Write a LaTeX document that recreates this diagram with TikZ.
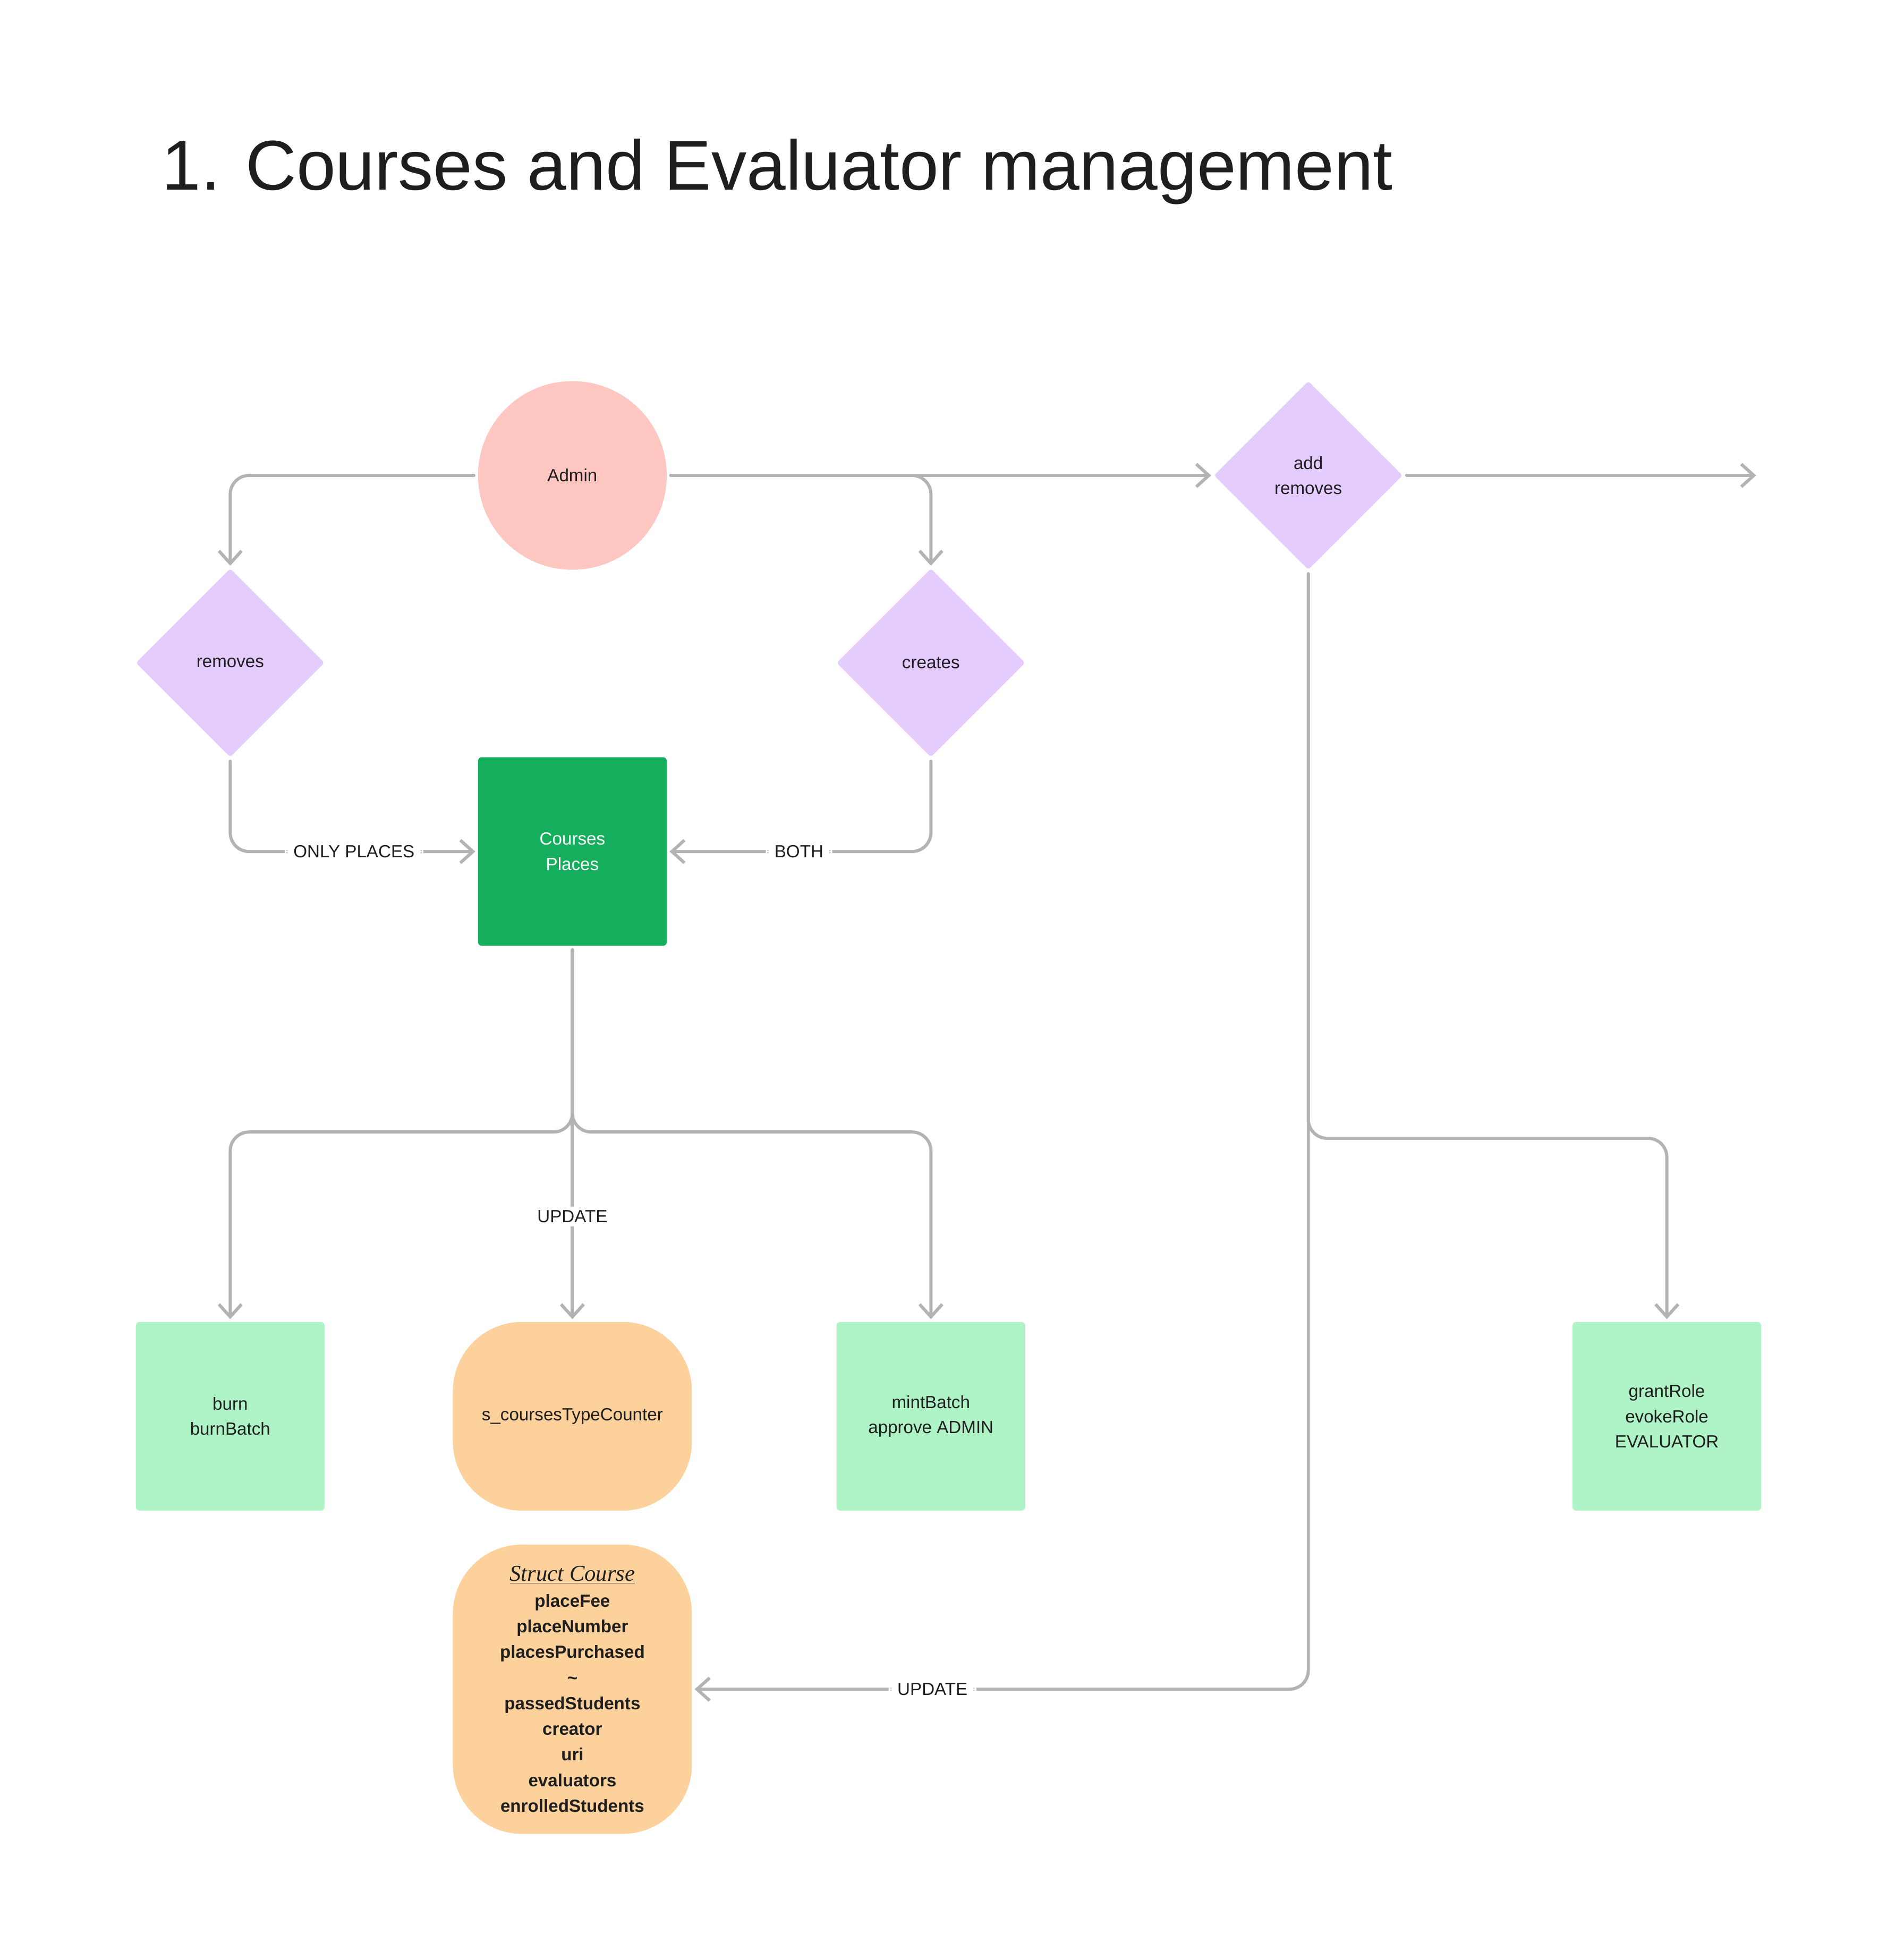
\documentclass[tikz,border=0pt]{standalone}
\usepackage{fontspec}
\setmainfont{Liberation Sans}
\newfontfamily\handfont{Liberation Serif}
\usetikzlibrary{shapes.geometric,arrows.meta}
\definecolor{lineGray}{HTML}{B3B3B3}
\definecolor{adminPink}{HTML}{FFC7C2}
\definecolor{choiceLilac}{HTML}{E4CCFF}
\definecolor{storeGreen}{HTML}{14AE5C}
\definecolor{fnGreen}{HTML}{AFF4C6}
\definecolor{varOrange}{HTML}{FCD19C}
\definecolor{inkDark}{HTML}{1E1E1E}
\begin{document}
\begin{tikzpicture}[
              x=1pt, y=-1pt,
              every node/.style={font=\fontsize{14}{20}\selectfont, text=inkDark, align=center},
              actor/.style={circle, fill=adminPink, minimum size=150pt, inner sep=0pt},
              choice/.style={diamond, fill=choiceLilac, minimum width=150pt, minimum height=150pt, aspect=1, inner sep=0pt, rounded corners=2pt},
              store/.style={rectangle, fill=storeGreen, text=white, minimum width=150pt, minimum height=150pt, rounded corners=3pt},
              func/.style={rectangle, fill=fnGreen, minimum width=150pt, minimum height=150pt, rounded corners=3pt},
              var/.style={rectangle, fill=varOrange, minimum width=190pt, rounded corners=55pt},
              conn/.style={draw=lineGray, line width=2.5pt, line cap=round, rounded corners=15pt, shorten <=3pt},
              arr/.style={conn, -{Straight Barb[length=10pt,width=18pt,line width=2.5pt]}, shorten >=2pt},
              tag/.style={fill=white, inner xsep=7pt, inner ysep=3pt}
            ]
            \useasboundingbox (0,0) rectangle (1500,1558.3);

            % Title
            \node[anchor=base west, font=\fontsize{56}{64}\selectfont] (title) at (125,151) {1.\hspace{20pt}Courses and Evaluator management};

            % Admin and its choices
            \node[actor] (admin) at (455,378) {Admin};
            \node[choice] (rem) at (183,527) {removes};
            \node[choice] (cre) at (740,527) {creates};
            \node[choice] (addrem) at (1040,378) {add\\removes};
            \node[store] (courses) at (455,677) {Courses\\Places};

            % Functions and storage
            \node[func] (burn) at (183,1126) {burn\\burnBatch};
            \node[var, minimum height=150pt] (counter) at (455,1126) {s\_coursesTypeCounter};
            \node[func] (mint) at (740,1126) {mintBatch\\approve ADMIN};
            \node[func] (grant) at (1325,1126) {grantRole\\evokeRole\\EVALUATOR};
            \node[var, minimum height=230pt, font=\bfseries\fontsize{14}{20.4}\selectfont] (course) at (455,1343)
              {{\handfont\itshape\mdseries\fontsize{18}{20.4}\selectfont\underline{Struct Course}}\\
               placeFee\\placeNumber\\placesPurchased\\\textasciitilde\\passedStudents\\creator\\uri\\evaluators\\enrolledStudents};

            \coordinate (out) at (1398,378);
            \coordinate (fork) at (455,900);
            \coordinate (forkR) at (1040,905);

            % Admin connectors
            \draw[arr] (admin.west) -| (rem.north);
            \draw[arr] (admin.east) -- (addrem.west);
            \draw[arr] (admin.east) -| (cre.north);
            \draw[arr] (addrem.east) -- (out);

            % Into the courses
            \draw[arr] (rem.south) |- node[tag, pos=0.75] {ONLY PLACES} (courses.west);
            \draw[arr] (cre.south) |- node[tag, pos=0.75] {BOTH} (courses.east);

            % Out of the courses
            \draw[arr] (courses.south) -- (fork) -| (burn.north);
            \draw[arr] (courses.south) -- (fork) -| (mint.north);
            \draw[arr] (courses.south) -- node[tag, pos=0.72] {UPDATE} (counter.north);

            % Evaluators
            \draw[arr] (addrem.south) |- node[tag, pos=0.805] {UPDATE} (course.east);
            \draw[arr] (addrem.south) -- (forkR) -| (grant.north);

            \end{tikzpicture}
\end{document}
